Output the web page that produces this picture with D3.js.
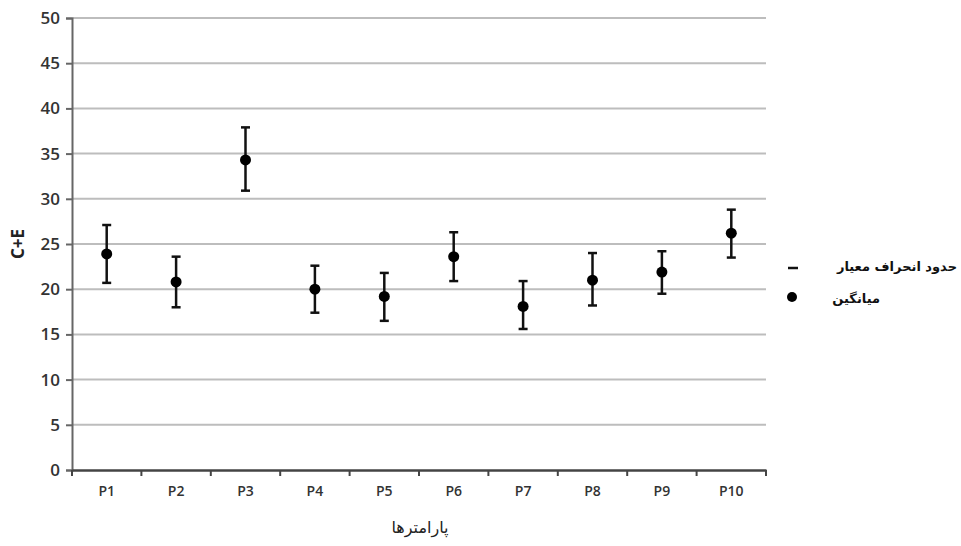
<!DOCTYPE html>
<meta charset="utf-8">

<head>
    <title>C+E error bars</title>
    <script src="https://d3js.org/d3.v7.min.js"></script>
    <style>
        body {
            margin: 0;
            background-color: white;
        }

        .tick text {
            font-family: "Open Sans", sans-serif;
            font-weight: 600;
            fill: #333;
        }
    </style>
</head>

<body>
    <svg id="svg"></svg>

    <script>
        // chart values
        const params = ['P1', 'P2', 'P3', 'P4', 'P5', 'P6', 'P7', 'P8', 'P9', 'P10']
        const means = [23.9, 20.8, 34.3, 20.0, 19.2, 23.6, 18.1, 21.0, 21.9, 26.2]
        const upper = [27.1, 23.6, 37.9, 22.6, 21.8, 26.3, 20.9, 24.0, 24.2, 28.8]
        const lower = [20.7, 18.0, 30.9, 17.4, 16.5, 20.9, 15.6, 18.2, 19.5, 23.5]
        const yTicks = [0, 5, 10, 15, 20, 25, 30, 35, 40, 45, 50]

        const width = 961
        const height = 546
        const margin = { top: 18, right: 195, bottom: 76, left: 72 }

        let svg = d3.select('#svg')
            .attr('width', width)
            .attr('height', height)

        let x = d3.scaleBand()
            .domain(params)
            .range([margin.left, width - margin.right])

        let y = d3.scaleLinear()
            .domain([0, 50])
            .range([height - margin.bottom, margin.top])

        // gridlines
        svg.append('g')
            .selectAll('line')
            .data(yTicks.filter(d => d > 0))
            .enter()
            .append('line')
            .attr('x1', margin.left)
            .attr('x2', width - margin.right)
            .attr('y1', d => y(d))
            .attr('y2', d => y(d))
            .attr('stroke', '#bdbdbd')
            .attr('stroke-width', 2)

        // y axis
        let yAxis = svg.append('g')
            .attr('transform', 'translate(' + margin.left + ',0)')
            .call(d3.axisLeft(y).tickValues(yTicks).tickSize(6).tickPadding(6))
        yAxis.selectAll('text').style('font-size', '17px')
        yAxis.selectAll('line, path').attr('stroke', '#666').attr('stroke-width', 2)

        // x axis, ticks sit on the band edges
        let xAxis = svg.append('g')
            .attr('transform', 'translate(0,' + y(0) + ')')
            .call(d3.axisBottom(x).tickSize(0).tickPadding(16))
        xAxis.selectAll('text').style('font-size', '14px')
        xAxis.select('path').attr('stroke', '#444').attr('stroke-width', 2.5)
        xAxis.append('g')
            .selectAll('line')
            .data(params.map(p => x(p)).concat([x(params[params.length - 1]) + x.bandwidth()]))
            .enter()
            .append('line')
            .attr('x1', d => d)
            .attr('x2', d => d)
            .attr('y1', 0)
            .attr('y2', 6)
            .attr('stroke', '#444')
            .attr('stroke-width', 2)

        // error bars
        let bars = svg.append('g')
            .selectAll('g')
            .data(params)
            .enter()
            .append('g')
            .attr('transform', d => 'translate(' + (x(d) + x.bandwidth() / 2) + ',0)')

        bars.append('line')
            .attr('y1', (d, i) => y(lower[i]))
            .attr('y2', (d, i) => y(upper[i]))
            .attr('stroke', '#111')
            .attr('stroke-width', 2.5)

        bars.selectAll('.cap')
            .data((d, i) => [upper[i], lower[i]])
            .enter()
            .append('line')
            .attr('class', 'cap')
            .attr('x1', -4.5)
            .attr('x2', 4.5)
            .attr('y1', d => y(d))
            .attr('y2', d => y(d))
            .attr('stroke', '#111')
            .attr('stroke-width', 2.5)

        bars.append('circle')
            .attr('cy', (d, i) => y(means[i]))
            .attr('r', 5.5)
            .attr('fill', '#000')

        // axis titles
        svg.append('text')
            .attr('transform', 'translate(24,' + y(25) + ') rotate(-90)')
            .attr('text-anchor', 'middle')
            .style('font-family', '"Open Sans", sans-serif')
            .style('font-weight', 'bold')
            .style('font-size', '17px')
            .attr('fill', '#222')
            .text('C+E')

        svg.append('text')
            .attr('x', 420)
            .attr('y', 533)
            .attr('text-anchor', 'middle')
            .style('font-family', '"DejaVu Sans", sans-serif')
            .style('font-size', '16px')
            .attr('fill', '#222')
            .text('پارامترها')

        // legend
        let legend = svg.append('g')
        legend.append('line')
            .attr('x1', 788)
            .attr('x2', 798)
            .attr('y1', 268)
            .attr('y2', 268)
            .attr('stroke', '#111')
            .attr('stroke-width', 2.5)
        legend.append('circle')
            .attr('cx', 792)
            .attr('cy', 297)
            .attr('r', 5)
            .attr('fill', '#000')
        legend.append('text')
            .attr('x', 957)
            .attr('y', 271)
            .attr('text-anchor', 'end')
            .style('font-family', '"DejaVu Sans", sans-serif')
            .style('font-weight', 'bold')
            .style('font-size', '13px')
            .attr('fill', '#111')
            .text('حدود انحراف معیار')
        legend.append('text')
            .attr('x', 880)
            .attr('y', 303)
            .attr('text-anchor', 'end')
            .style('font-family', '"DejaVu Sans", sans-serif')
            .style('font-weight', 'bold')
            .style('font-size', '13px')
            .attr('fill', '#111')
            .text('میانگین')
    </script>
</body>

</html>
